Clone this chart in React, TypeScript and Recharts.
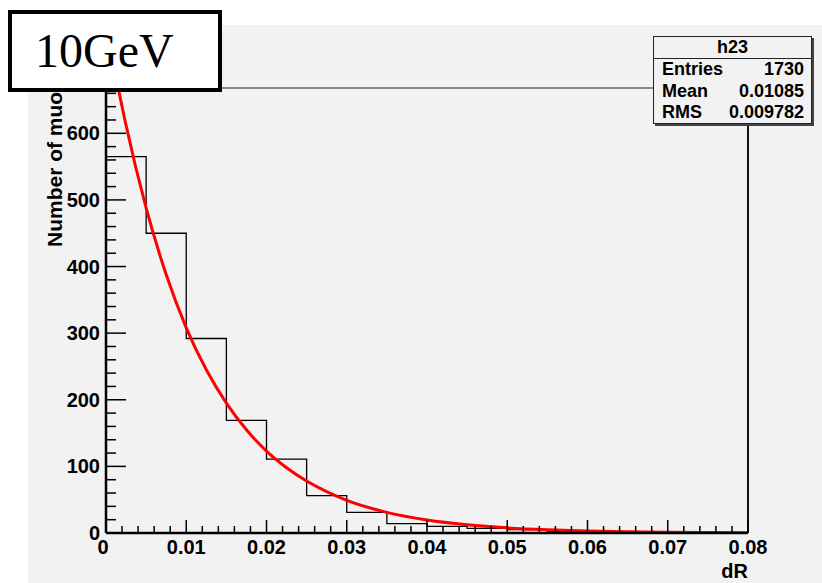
import React from 'react';
import { ComposedChart, Line, XAxis, YAxis, ReferenceLine } from 'recharts';

// Histogram h23: bin left edges (width 0.005) and counts
const binEdges = [0, 0.005, 0.01, 0.015, 0.02, 0.025, 0.03, 0.035, 0.04, 0.045, 0.05, 0.055, 0.06, 0.065, 0.07, 0.075, 0.08];
const binCounts = [565, 450, 292, 169, 111, 56, 31, 14, 10, 7, 5, 2, 2, 1, 1, 0];

// Red fitted curve
const fitX = [0, 0.001, 0.0025, 0.005, 0.0075, 0.01, 0.0125, 0.015, 0.0175, 0.02, 0.0225, 0.025, 0.0275, 0.03, 0.035, 0.04, 0.045, 0.05, 0.055, 0.06, 0.065, 0.07, 0.075, 0.08];
const fitY = [765, 700, 612, 488, 388, 308, 245, 195, 155, 123, 98, 78, 62, 49, 31, 19.5, 12.3, 7.7, 4.9, 3.1, 1.9, 1.2, 0.8, 0.5];

// Axes
const xMajorTicks = [0, 0.01, 0.02, 0.03, 0.04, 0.05, 0.06, 0.07, 0.08];
const xMajorLabels = ['0', '0.01', '0.02', '0.03', '0.04', '0.05', '0.06', '0.07', '0.08'];
const yMajorTicks = [0, 100, 200, 300, 400, 500, 600];
const yMajorLabels = ['0', '100', '200', '300', '400', '500', '600'];
const xMax = 0.08;
const yMax = 668;

// Stats box
const statsTitle = 'h23';
const statsNames = ['Entries', 'Mean', 'RMS'];
const statsValues = ['1730', '0.01085', '0.009782'];

const xAxisTitle = 'dR';
const yAxisTitle = 'Number of muons';
const energyLabel = '10GeV';

const histData = binEdges.map((x, i) => ({ x, h: binCounts[Math.min(i, binCounts.length - 1)] }));
const fitData = fitX.map((x, i) => ({ x, f: fitY[i] }));

const xTicks: number[] = [];
for (let i = 0; i <= 40; i++) xTicks.push(Math.round(i * 0.002 * 1000) / 1000);
const yTicks: number[] = [];
for (let v = 0; v <= 660; v += 20) yTicks.push(v);

const FONT = '"Liberation Sans", Arial, Helvetica, sans-serif';

const XTick = (props: any) => {
  const { x, y, payload } = props;
  const v = payload.value;
  const idx = xMajorTicks.findIndex((t) => Math.abs(t - v) < 1e-9);
  const major = idx >= 0;
  return (
    <g>
      <line x1={x} y1={y} x2={x} y2={y - (major ? 13 : 7)} stroke="#000" strokeWidth={1.5} />
      {major && (
        <text x={idx === 0 ? x - 3 : x} y={y + 21} textAnchor="middle" fontFamily={FONT} fontWeight="bold" fontSize={20} fill="#000">
          {xMajorLabels[idx]}
        </text>
      )}
    </g>
  );
};

const YTick = (props: any) => {
  const { x, y, payload } = props;
  const v = payload.value;
  const idx = yMajorTicks.indexOf(v);
  const major = idx >= 0;
  return (
    <g>
      <line x1={x} y1={y} x2={x + (major ? 20 : 10)} y2={y} stroke="#000" strokeWidth={1.5} />
      {major && (
        <text x={x - 6} y={y + 7} textAnchor="end" fontFamily={FONT} fontWeight="bold" fontSize={20} fill="#000">
          {yMajorLabels[idx]}
        </text>
      )}
    </g>
  );
};

export default function App() {
  return (
    <div style={{ position: 'absolute', left: 0, top: 0, width: 822, height: 583, overflow: 'hidden', background: '#ffffff' }}>
      <div style={{ position: 'absolute', left: 28, top: 25, width: 794, height: 558, background: '#f2f2f2' }} />
      <div style={{ position: 'absolute', left: 0, top: 0 }}>
        <ComposedChart width={822} height={583} margin={{ top: 88, left: 105, right: 74, bottom: 49 }}>
          <XAxis
            dataKey="x"
            type="number"
            domain={[0, xMax]}
            ticks={xTicks}
            interval={0}
            height={1}
            tickSize={0}
            tickMargin={0}
            tickLine={false}
            tick={<XTick />}
            axisLine={{ stroke: '#000', strokeWidth: 2.5 }}
            allowDataOverflow
          />
          <YAxis
            type="number"
            domain={[0, yMax]}
            ticks={yTicks}
            interval={0}
            width={1}
            tickSize={0}
            tickMargin={0}
            tickLine={false}
            tick={<YTick />}
            axisLine={{ stroke: '#000', strokeWidth: 2.5 }}
            allowDataOverflow
          />
          <ReferenceLine y={yMax} stroke="#222" strokeWidth={1.2} ifOverflow="visible" />
          <ReferenceLine x={xMax} stroke="#111" strokeWidth={2} ifOverflow="visible" />
          <Line data={histData} dataKey="h" type="stepAfter" stroke="#000" strokeWidth={1.3} dot={false} isAnimationActive={false} />
          <Line data={fitData} dataKey="f" type="monotone" stroke="#ff0000" strokeWidth={3} dot={false} isAnimationActive={false} />
        </ComposedChart>
      </div>
      <svg style={{ position: 'absolute', left: 0, top: 0 }} width={822} height={583}>
        <text transform="translate(62,247) rotate(-90)" textAnchor="start" fontFamily={FONT} fontWeight="bold" fontSize={21} fill="#000">
          {yAxisTitle}
        </text>
        <text x={748} y={578} textAnchor="end" fontFamily={FONT} fontWeight="bold" fontSize={20} fill="#000">
          {xAxisTitle}
        </text>
      </svg>
      <div
        style={{
          position: 'absolute', left: 653, top: 36, width: 159, height: 88, boxSizing: 'border-box',
          border: '1px solid #222', background: '#f2f2f2', boxShadow: '2px 2px 0 #444',
          fontFamily: FONT, fontWeight: 'bold', fontSize: 18, color: '#000',
        }}
      >
        <div style={{ height: 21, lineHeight: '21px', textAlign: 'center', borderBottom: '1px solid #222' }}>{statsTitle}</div>
        {statsNames.map((n, i) => (
          <div key={n} style={{ display: 'flex', justifyContent: 'space-between', height: 21.5, lineHeight: '21.5px', padding: '0 7px 0 8px' }}>
            <span>{n}</span>
            <span>{statsValues[i]}</span>
          </div>
        ))}
      </div>
      <div
        style={{
          position: 'absolute', left: 8, top: 10, width: 214, height: 82, boxSizing: 'border-box',
          border: '4px solid #000', background: '#fff',
          fontFamily: '"Liberation Serif", "Times New Roman", serif', fontSize: 48, color: '#000',
          lineHeight: '74px', paddingLeft: 23,
        }}
      >
        {energyLabel}
      </div>
    </div>
  );
}
